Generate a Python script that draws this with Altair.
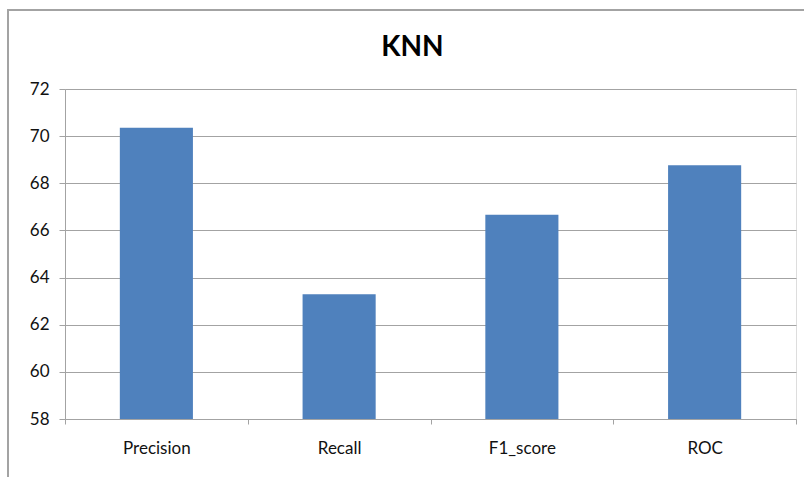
import altair as alt
import pandas as pd

# KNN evaluation metrics (percent)
metrics = ["Precision", "Recall", "F1_score", "ROC"]
scores = [70.36, 63.29, 66.67, 68.76]
y_ticks = [58, 60, 62, 64, 66, 68, 70, 72]

df = pd.DataFrame({"metric": metrics, "score": scores})

GRID = "#a3a3a3"
FONT = "Lato"

bars = alt.Chart(df).mark_bar(color="#4f81bd", width=alt.RelativeBandSize(0.4)).encode(
    x=alt.X(
        "metric:N",
        sort=metrics,
        title=None,
        scale=alt.Scale(paddingInner=0, paddingOuter=0),
        axis=alt.Axis(
            labelAngle=0,
            labelFontSize=17,
            labelFont=FONT,
            labelColor="#111111",
            labelPadding=16,
            domainColor=GRID,
            tickColor=GRID,
            tickSize=5,
            tickBand="extent",
            grid=False,
        ),
    ),
    y=alt.Y(
        "score:Q",
        title=None,
        scale=alt.Scale(domain=[58, 72], nice=False, zero=False, clamp=True),
        axis=alt.Axis(
            values=y_ticks,
            labelFontSize=17,
            labelFont=FONT,
            labelColor="#111111",
            labelPadding=10,
            domainColor=GRID,
            tickColor=GRID,
            tickSize=6,
            gridColor=GRID,
            gridOpacity=1,
        ),
    ),
)

# outer chart frame
frame = alt.Chart(df).mark_rect(
    fill=None, stroke=GRID, strokeWidth=1.5
).encode(
    x=alt.value(-57), x2=alt.value(760), y=alt.value(-79), y2=alt.value(420)
)

chart = (
    alt.layer(frame, bars)
    .properties(
        width=731,
        height=330,
        title=alt.TitleParams(
            "KNN", fontSize=28, font=FONT, fontWeight="bold", color="#000000",
            offset=-75, dx=-18, baseline="alphabetic", frame="group",
        ),
        autosize=alt.AutoSizeParams(type="none"),
        padding={"left": 65, "top": 89, "right": 8, "bottom": 58},
    )
    .configure_view(stroke=None)
    .configure(background="white")
)

chart.save("out.html", embed_options={"renderer": "svg", "actions": False})
